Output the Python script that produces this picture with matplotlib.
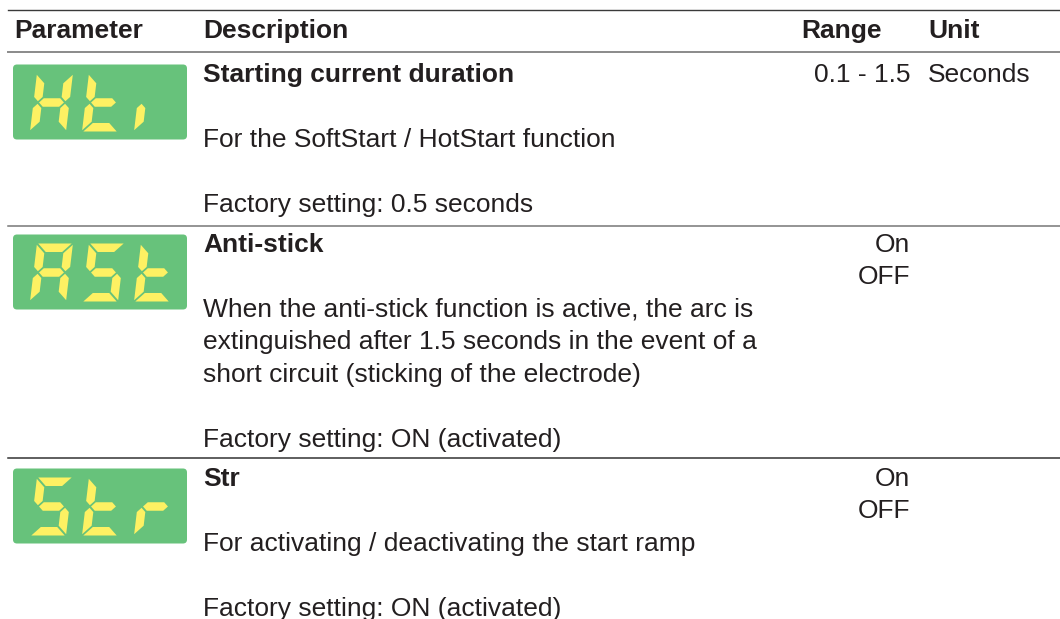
import numpy as np
import matplotlib.pyplot as plt
from matplotlib.patches import Polygon, FancyBboxPatch

plt.rcParams["font.family"] = ["Liberation Sans", "DejaVu Sans"]

# Contenido de la tabla
headers = ["Parameter", "Description", "Range", "Unit"]
display_codes = ["Hti", "ASt", "Str"]
titles = ["Starting current duration", "Anti-stick", "Str"]
descriptions = [
    ["For the SoftStart / HotStart function"],
    [
        "When the anti-stick function is active, the arc is",
        "extinguished after 1.5 seconds in the event of a",
        "short circuit (sticking of the electrode)",
    ],
    ["For activating / deactivating the start ramp"],
]
factory = [
    "Factory setting: 0.5 seconds",
    "Factory setting: ON (activated)",
    "Factory setting: ON (activated)",
]
ranges = [["0.1 - 1.5"], ["On", "OFF"], ["On", "OFF"]]
units = ["Seconds", "", ""]

# Segmentos encendidos para cada letra del display
segments_on = {
    "H": "bcefg",
    "t": "defg",
    "i": "e",
    "A": "abcefg",
    "S": "acdfg",
    "r": "eg",
}

# Estilo / disposición (en píxeles)
W, H = 1060, 619
FS = 19
TXT = "#231f20"
GREEN = "#67c27b"
YELLOW = "#fdf163"
LH = 32.5
title_base = [82, 252, 486]
row_lines = [226, 458]
col_x = [14, 203, 801, 928]
range_right = 910


def segment_polys(seg, w=36.0, h=58.0, t=8.5, g=1.3):
    half = h / 2

    def horiz(yc):
        return [(t / 2 + g, yc), (t + g, yc + t / 2), (w - t - g, yc + t / 2),
                (w - t / 2 - g, yc), (w - t - g, yc - t / 2), (t + g, yc - t / 2)]

    top = [(g, h), (w - g, h), (w - t - g, h - t), (t + g, h - t)]
    bot = [(g, 0), (w - g, 0), (w - t - g, t), (t + g, t)]
    f = [(0, h - g), (t, h - t - g), (t, half + t / 2 + g), (t / 2, half + g), (0, half + t / 2 + g)]
    e = [(0, g), (t, t + g), (t, half - t / 2 - g), (t / 2, half - g), (0, half - t / 2 - g)]
    table = {
        "a": top,
        "d": bot,
        "g": horiz(half),
        "f": f,
        "e": e,
        "b": [(w - x, y) for x, y in f],
        "c": [(w - x, y) for x, y in e],
    }
    return table[seg]


def draw_display(ax, code, top):
    box = FancyBboxPatch((13, top), 174, 75, boxstyle="round,pad=0,rounding_size=4",
                         facecolor=GREEN, edgecolor="none")
    ax.add_patch(box)
    bottom = top + 67
    slant = 0.12
    for k, ch in enumerate(code):
        x0 = 30 + 52 * k
        for seg in segments_on[ch]:
            pts = np.array(segment_polys(seg))
            px = x0 + pts[:, 0] + slant * pts[:, 1]
            py = bottom - pts[:, 1]
            ax.add_patch(Polygon(np.column_stack([px, py]), closed=True,
                                 facecolor=YELLOW, edgecolor="none"))


fig = plt.figure(figsize=(10.6, 6.19), dpi=100)
ax = fig.add_axes([0, 0, 1, 1])
ax.set_xlim(0, W)
ax.set_ylim(H, 0)
ax.axis("off")

# Líneas horizontales
ax.plot([8, W], [10, 10], color="#3a3a3a", lw=1.0)
ax.plot([8, W], [52, 52], color="#8a8a8a", lw=1.4)
for y, c in zip(row_lines, ["#777777", "#333333"]):
    ax.plot([8, W], [y, y], color=c, lw=1.1)

# Cabecera
for x, h in zip(col_x, headers):
    ax.text(x, 38, h, fontsize=FS, fontweight="bold", color=TXT, va="baseline")

for i in range(3):
    b = title_base[i]
    draw_display(ax, display_codes[i], b - 17.5)
    ax.text(col_x[1], b, titles[i], fontsize=FS, fontweight="bold", color=TXT, va="baseline")
    y = b + 2 * LH
    for line in descriptions[i]:
        ax.text(col_x[1], y, line, fontsize=FS, color=TXT, va="baseline")
        y += LH
    y += LH
    ax.text(col_x[1], y, factory[i], fontsize=FS, color=TXT, va="baseline")
    for j, r in enumerate(ranges[i]):
        ax.text(range_right, b + j * LH, r, fontsize=FS, color=TXT, va="baseline", ha="right")
    if units[i]:
        ax.text(col_x[3], b, units[i], fontsize=FS, color=TXT, va="baseline")

fig.savefig("out.png", dpi=100)
